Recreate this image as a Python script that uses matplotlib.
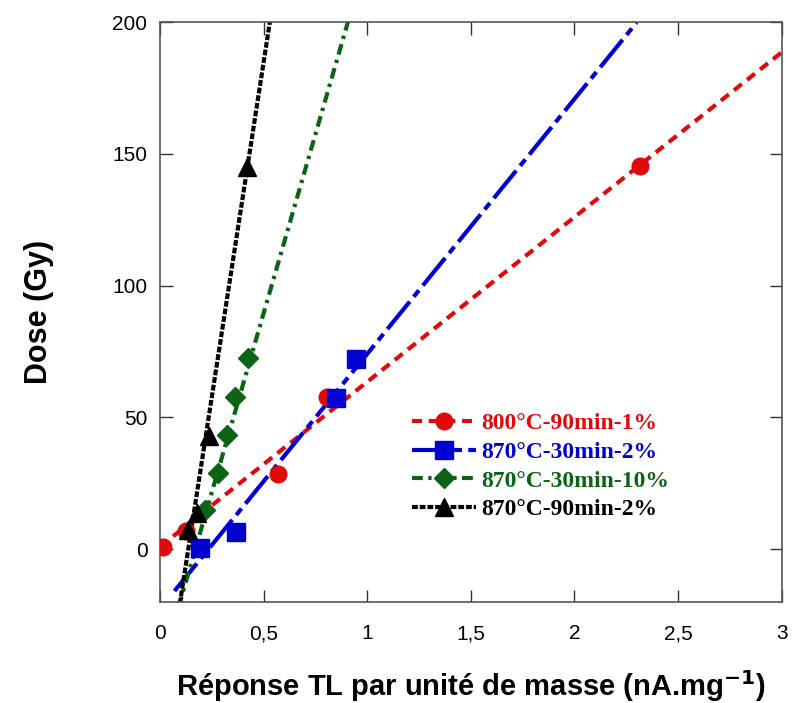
import numpy as np
import matplotlib
matplotlib.use('Agg')
import matplotlib.pyplot as plt

# Points mesurés (réponse TL, dose)
labels = ['800°C-90min-1%', '870°C-30min-2%', '870°C-30min-10%', '870°C-90min-2%']
colors = ['#e00a0a', '#0000d0', '#0a6414', '#000000']
markers = ['o', 's', 'D', '^']
msizes = [12, 13, 10, 13]

x_red = [0.015, 0.125, 0.57, 0.805, 2.315]
y_red = [0.8, 6.8, 28.5, 57.7, 145.3]
x_blue = [0.193, 0.367, 0.85, 0.945]
y_blue = [0.4, 6.5, 57.3, 72.0]
x_green = [0.217, 0.28, 0.323, 0.362, 0.425]
y_green = [14.8, 28.8, 43.3, 57.7, 72.5]
x_black = [0.135, 0.178, 0.236, 0.42]
y_black = [7.2, 13.7, 42.9, 145.0]

# Droites d'ajustement : pente, ordonnée, domaine en x
fit_slope = [62.5, 96.7, 271.6, 508.0]
fit_icpt = [1.0, -22.6, -46.3, -69.3]
fit_xmin = [0.0, 0.07, 0.09, 0.09]
fit_xmax = [3.0, 2.30, 0.91, 0.54]

dashes = [(2.4, 1.6), (8.5, 1.5, 2.0, 1.5), (2.6, 1.3, 0.8, 1.3), (1.4, 0.45)]

xs = [x_red, x_blue, x_green, x_black]
ys = [y_red, y_blue, y_green, y_black]

fig = plt.figure(figsize=(7.92, 7.03), dpi=100)
ax = fig.add_axes([0.202, 0.1437, 0.785, 0.825])

for i in range(4):
    xl = np.linspace(fit_xmin[i], fit_xmax[i], 50)
    ax.plot(xl, fit_slope[i] * xl + fit_icpt[i], color=colors[i], lw=3,
            dashes=dashes[i], zorder=2)
    ax.plot(xs[i], ys[i], ls='none', marker=markers[i], ms=msizes[i],
            color=colors[i], zorder=3)

# legende (poignées ligne + marqueur)
handles = [plt.Line2D([], [], color=colors[i], lw=3, dashes=dashes[i],
                      marker=markers[i], ms=msizes[i]) for i in range(4)]
leg = ax.legend(handles, labels, loc='upper left', bbox_to_anchor=(0.405, 0.326),
                frameon=False, handlelength=2.7, handletextpad=0.25,
                borderaxespad=0, borderpad=0, labelspacing=0.3,
                prop={'family': 'Liberation Serif', 'weight': 'bold', 'size': 17})
for t, c in zip(leg.get_texts(), colors):
    t.set_color(c)

ax.set_xlim(0, 3)
ax.set_ylim(-20, 200)
ax.set_xticks(np.arange(0, 3.01, 0.5))
ax.set_xticklabels(['0', '0,5', '1', '1,5', '2', '2,5', '3'])
ax.set_yticks([0, 50, 100, 150, 200])
ax.tick_params(direction='in', length=9, width=1, top=True, right=True,
               labelsize=15, colors='#333333', labelcolor='black')
ax.tick_params(axis='x', pad=16)
ax.tick_params(axis='y', pad=9)
for lab in ax.get_xticklabels() + ax.get_yticklabels():
    lab.set_family('Liberation Sans')
for sp in ax.spines.values():
    sp.set_color('#555555')
    sp.set_linewidth(1.2)

ax.set_xlabel('Réponse TL par unité de masse (nA.mg$^{\\mathbf{-1}}$)',
              fontsize=21, fontweight='bold', family='Liberation Sans', labelpad=18)
ax.set_ylabel('Dose (Gy)', fontsize=22, fontweight='bold',
              family='Liberation Sans', labelpad=42)

fig.savefig('out.png', dpi=100)
